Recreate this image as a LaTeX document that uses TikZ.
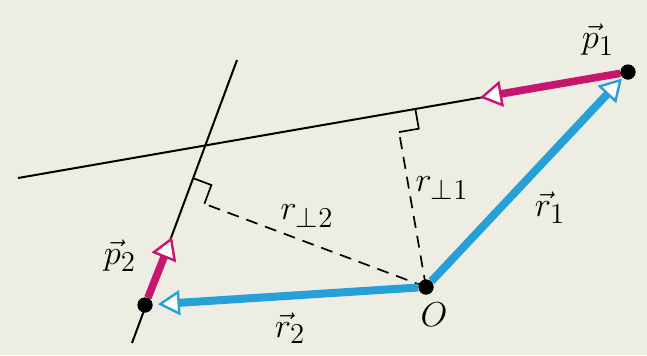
\documentclass[tikz,border=0pt]{standalone}
\usetikzlibrary{arrows.meta,calc}
\definecolor{bg}{RGB}{237,237,227}
\definecolor{mag}{RGB}{200,22,110}
\definecolor{cy}{RGB}{38,160,215}
\begin{document}
\begin{tikzpicture}[x=0.5pt,y=-0.5pt,
  thinline/.style={line width=1pt,black},
  dashline/.style={line width=0.85pt,black,dash pattern=on 6pt off 4pt},
  marker/.style={line width=0.85pt,black},
  dot/.style={circle,fill=black,inner sep=0pt,minimum size=7.5pt},
  bluevec/.style={line width=4pt,cy,-{Triangle[length=11pt,width=12.5pt,line width=1.2pt,fill=white]}},
  magvec/.style={line width=3.8pt,mag,-{Triangle[length=11pt,width=13pt,line width=1.2pt,fill=white]}},
  lbl/.style={font=\fontsize{19}{22}\selectfont,inner sep=0pt}]
\fill[bg] (0,0) rectangle (647,355);
\useasboundingbox (0,0) rectangle (647,355);
% points
\coordinate (P1c) at (628,72);
\coordinate (Oc) at (426,287);
\coordinate (P2c) at (145,305);
\coordinate (L1) at (18,178);
\coordinate (L2a) at (237,60);
\coordinate (L2b) at (132,343);
\coordinate (T1) at (480,97.5);
\coordinate (T2) at (172,237);
% feet of perpendiculars
\coordinate (F1) at ($(L1)!(Oc)!(P1c)$);
\coordinate (F2) at ($(L2a)!(Oc)!(P2c)$);
\coordinate (F1a) at ($(F1)!10pt!(P1c)$);
\coordinate (F1b) at ($(F1)!10pt!(Oc)$);
\coordinate (F1c) at ($(F1a)+(F1b)-(F1)$);
\coordinate (F2a) at ($(F2)!10pt!(L2a)$);
\coordinate (F2b) at ($(F2)!10pt!(Oc)$);
\coordinate (F2c) at ($(F2a)+(F2b)-(F2)$);
% thin lines
\draw[thinline] (L1) -- (P1c);
\draw[thinline] (L2a) -- (L2b);
% right angle markers
\draw[marker] (F1a) -- (F1c) -- (F1b);
\draw[marker] (F2a) -- (F2c) -- (F2b);
% dashed perpendiculars
\draw[dashline] (Oc) -- (F1b);
\draw[dashline] (Oc) -- (F2b);
% dots
\node[dot] (P1) at (P1c) {};
\node[dot] (O) at (Oc) {};
\node[dot] (P2) at (P2c) {};
% vectors
\draw[magvec] (P1) -- (T1);
\draw[magvec] (P2) -- (T2);
\draw[bluevec,shorten >=0.5pt] (O) -- (P1);
\draw[bluevec,shorten >=2.5pt] (O) -- (P2);
\node[dot] at (P1c) {};
\node[dot] at (Oc) {};
\node[dot] at (P2c) {};
% labels
\node[lbl] (lp1) at (598,40) {$\vec{p}_1$};
\node[lbl] (lrp1) at (442,188) {$r_{\perp 1}$};
\node[lbl] (lr1) at (550,208) {$\vec{r}_1$};
\node[lbl] (lrp2) at (307,216) {$r_{\perp 2}$};
\node[lbl] (lp2) at (120,256) {$\vec{p}_2$};
\node[lbl] (lr2) at (290,328) {$\vec{r}_2$};
\node[lbl] (lO) at (434,315) {$O$};
\end{tikzpicture}
\end{document}
